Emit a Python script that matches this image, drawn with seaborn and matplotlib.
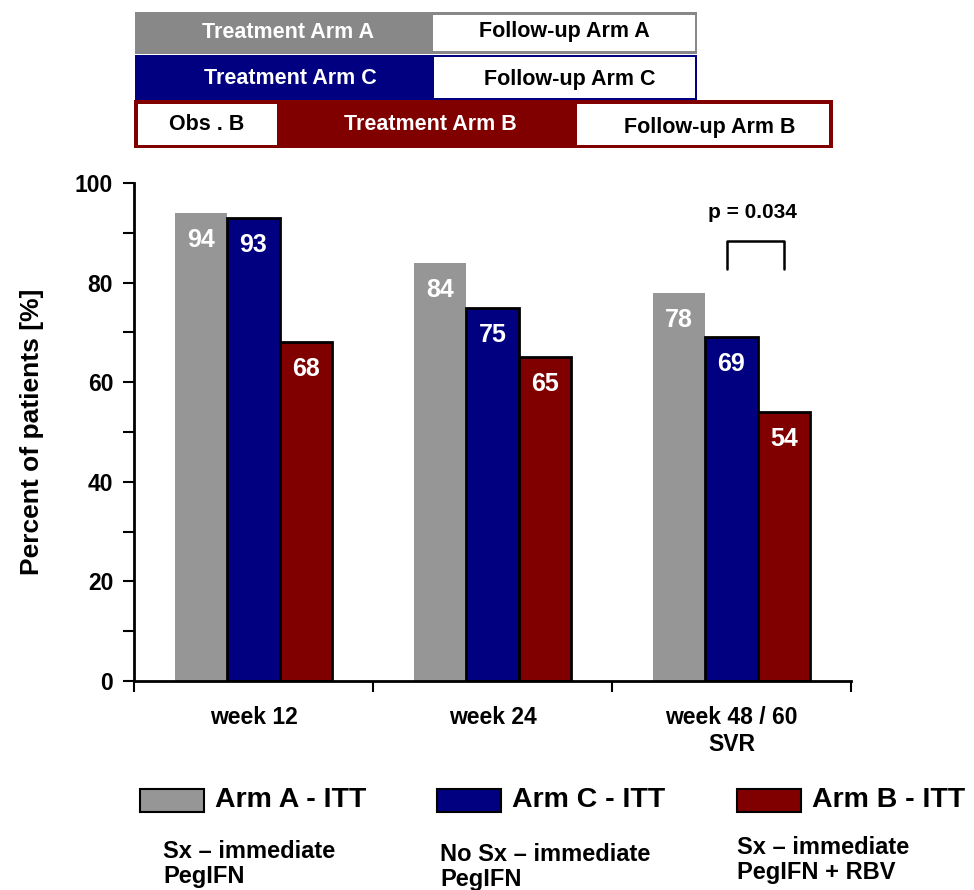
import matplotlib
matplotlib.use("Agg")
import matplotlib.pyplot as plt
from matplotlib.patches import Rectangle
from matplotlib.ticker import FixedLocator, MultipleLocator
import pandas as pd
import seaborn as sns

# Response rates per timepoint and arm
timepoints = ["week 12", "week 24", "week 48 / 60\nSVR"]
arms = ["Arm A - ITT", "Arm C - ITT", "Arm B - ITT"]
arm_a_itt = [94, 84, 78]
arm_c_itt = [93, 75, 69]
arm_b_itt = [68, 65, 54]
arm_notes = ["Sx \u2013 immediate\nPegIFN", "No Sx \u2013 immediate\nPegIFN", "Sx \u2013 immediate\nPegIFN + RBV"]
p_value_text = "p = 0.034"

arm_colors = ["#969696", "#000080", "#800000"]

df = pd.DataFrame({
    "timepoint": timepoints * 3,
    "arm": [a for a in arms for _ in timepoints],
    "percent": arm_a_itt + arm_c_itt + arm_b_itt,
})

sns.set_theme(style="white")
plt.rcParams["font.family"] = ["Liberation Sans", "DejaVu Sans"]
plt.rcParams["font.weight"] = "bold"
plt.rcParams["text.color"] = "black"
plt.rcParams["axes.labelcolor"] = "black"
plt.rcParams["xtick.color"] = "black"
plt.rcParams["ytick.color"] = "black"

W, H = 974, 890
fig = plt.figure(figsize=(W / 100, H / 100), dpi=100)
ax = fig.add_axes([134 / W, 1 - 681 / H, (851 - 134) / W, (681 - 183) / H])

sns.barplot(data=df, x="timepoint", y="percent", hue="arm", order=timepoints,
            hue_order=arms, palette=arm_colors, width=0.66, saturation=1,
            legend=False, ax=ax)

for i, cont in enumerate(ax.containers):
    for bar in cont:
        if i == 0:
            bar.set_edgecolor("none")
            bar.set_linewidth(0)
        else:
            bar.set_edgecolor("black")
            bar.set_linewidth(2)
    for bar in cont:
        h = bar.get_height()
        ax.annotate(f"{h:.0f}", xy=(bar.get_x() + bar.get_width() / 2, h),
                    xytext=(0, -19.5), textcoords="offset points",
                    ha="center", va="center", color="white",
                    fontsize=18, fontweight="bold")

ax.set_xlim(-0.5, 2.5)
ax.set_ylim(0, 100)
ax.set_xlabel("")
ax.set_ylabel("Percent of patients [%]", fontsize=19, fontweight="bold",
              labelpad=22, color="black")

ax.yaxis.set_major_locator(MultipleLocator(20))
ax.yaxis.set_minor_locator(MultipleLocator(10))
ax.xaxis.set_minor_locator(FixedLocator([-0.5, 0.5, 1.5, 2.5]))
ax.tick_params(axis="y", which="both", direction="out", length=8, width=1.5,
               left=True, labelsize=16.5, pad=7, color="black", labelcolor="black")
ax.tick_params(axis="x", which="major", length=0, labelsize=16.5, pad=18,
               labelcolor="black")
ax.tick_params(axis="x", which="minor", direction="out", length=8, width=1.5,
               bottom=True, color="black")
for lbl in ax.get_xticklabels() + ax.get_yticklabels():
    lbl.set_fontweight("bold")
    lbl.set_linespacing(1.2)

for side in ["top", "right"]:
    ax.spines[side].set_visible(False)
for side in ["left", "bottom"]:
    ax.spines[side].set_color("black")
    ax.spines[side].set_linewidth(2)

# Significance bracket between Arm C and Arm B at the last timepoint
bx0, bx1 = 2 - 0.02, 2 + 0.218
ax.plot([bx0, bx0, bx1, bx1], [82.7, 88.3, 88.3, 82.7], color="black", lw=1.8,
        clip_on=False)
ax.text((bx0 + bx1) / 2 - 0.01, 94, p_value_text, ha="center", va="center",
        fontsize=15, fontweight="bold", color="black")

# Overlay in pixel units for the arm schedule and the legend
ov = fig.add_axes([0, 0, 1, 1], facecolor="none")
ov.set_xlim(0, W)
ov.set_ylim(H, 0)
ov.axis("off")

def box(x0, y0, x1, y1, face, edge=None, lw=0):
    ov.add_patch(Rectangle((x0, y0), x1 - x0, y1 - y0, facecolor=face,
                           edgecolor=edge if edge else face, linewidth=lw))

def label(x, y, s, color, size=15.5):
    ov.text(x, y, s, ha="center", va="center", color=color, fontsize=size,
            fontweight="bold")

# Arm A
box(135, 12, 697, 54, "#888888")
box(433, 15, 695, 51, "white")
label(288, 32, "Treatment Arm A", "white")
label(564, 32, "Follow-up Arm A", "black")
# Arm C
box(135, 55, 697, 100, "#000080")
box(434, 57, 695, 98, "white")
label(290, 78, "Treatment Arm C", "white")
label(570, 79, "Follow-up Arm C", "black")
# Arm B
box(134, 100, 833, 148, "#800000")
box(138, 104, 277, 145, "white")
box(577, 104, 829, 145, "white")
label(207, 125, "Obs . B", "black")
label(430, 125, "Treatment Arm B", "white")
label(710, 127, "Follow-up Arm B", "black")

# Legend entries with arm descriptions
leg_x = [140, 437, 737]
note_pos = [(163, 864), (440, 867), (737, 860)]
for x, name, col, note, (nx, ny) in zip(leg_x, arms, arm_colors, arm_notes, note_pos):
    box(x, 789, x + 64, 812, col, "black", 1.5)
    ov.text(x + 75, 800, name, ha="left", va="center", fontsize=20.5,
            fontweight="bold", color="black")
    ov.text(nx, ny, note, ha="left", va="center", fontsize=17,
            fontweight="bold", color="black", linespacing=1.15)

fig.savefig("out.png", dpi=100)
